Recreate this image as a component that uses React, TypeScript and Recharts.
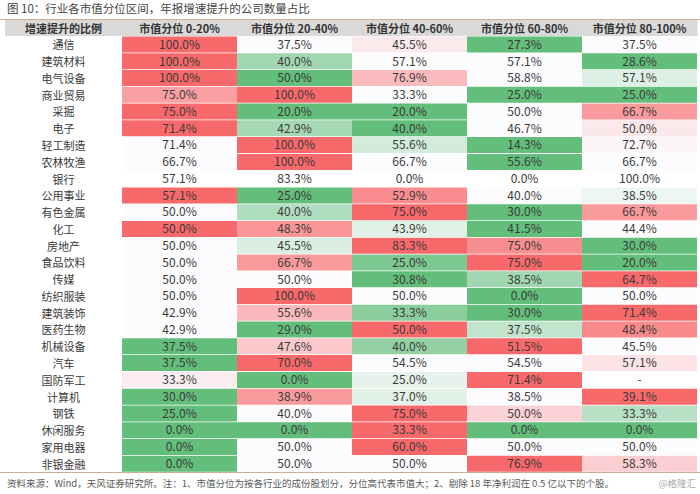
import React from "react";
import { BarChart, Bar, XAxis, YAxis, Cell, LabelList } from "recharts";

// ---------------------------------------------------------------------------
// Data (read off the reference table)
// ---------------------------------------------------------------------------
const industries = [
  "通信", "建筑材料", "电气设备", "商业贸易", "采掘", "电子", "轻工制造", "农林牧渔",
  "银行", "公用事业", "有色金属", "化工", "房地产", "食品饮料", "传媒", "纺织服装",
  "建筑装饰", "医药生物", "机械设备", "汽车", "国防军工", "计算机", "钢铁", "休闲服务",
  "家用电器", "非银金融",
];

const columns = ["市值分位 0-20%", "市值分位 20-40%", "市值分位 40-60%", "市值分位 60-80%", "市值分位 80-100%"];

const q0to20 = [100.0, 100.0, 100.0, 75.0, 75.0, 71.4, 71.4, 66.7, 57.1, 57.1, 50.0, 50.0, 50.0, 50.0, 50.0, 50.0, 42.9, 42.9, 37.5, 37.5, 33.3, 30.0, 25.0, 0.0, 0.0, 0.0];
const q20to40 = [37.5, 40.0, 50.0, 100.0, 20.0, 42.9, 100.0, 100.0, 83.3, 25.0, 40.0, 48.3, 45.5, 66.7, 50.0, 100.0, 55.6, 29.0, 47.6, 70.0, 0.0, 38.9, 40.0, 0.0, 50.0, 50.0];
const q40to60 = [45.5, 57.1, 76.9, 33.3, 20.0, 40.0, 55.6, 66.7, 0.0, 52.9, 75.0, 43.9, 83.3, 25.0, 30.8, 50.0, 33.3, 50.0, 40.0, 54.5, 25.0, 37.0, 75.0, 33.3, 60.0, 50.0];
const q60to80 = [27.3, 57.1, 58.8, 25.0, 50.0, 46.7, 14.3, 55.6, 0.0, 40.0, 30.0, 41.5, 75.0, 75.0, 38.5, 0.0, 30.0, 37.5, 51.5, 54.5, 71.4, 38.5, 50.0, 0.0, 50.0, 76.9];
const q80to100: (number | null)[] = [37.5, 28.6, 57.1, 25.0, 66.7, 50.0, 72.7, 66.7, 100.0, 38.5, 66.7, 44.4, 30.0, 20.0, 64.7, 50.0, 71.4, 48.4, 45.5, 57.1, null, 39.1, 33.3, 0.0, 50.0, 58.3];

// rows the source left without conditional formatting
const plainRows = ["银行"];

const series: (number | null)[][] = [q0to20, q20to40, q40to60, q60to80, q80to100];

// ---------------------------------------------------------------------------
// Layout / style
// ---------------------------------------------------------------------------
const W = 700;
const H = 494;
const MARGIN = { top: 20, right: 3, bottom: 22, left: 5 };
const LABEL_W = 117;
const HEADER_H = 16;
const FONT = '"Noto Sans CJK SC", "Noto Sans", sans-serif';
const TEXT = "#3a3a3a";
const HEADER_BG = "#D9D9D9";
const RULE = "#CFAE8F";

const LOW = [99, 190, 123];
const MID = [252, 252, 255];
const HIGH = [248, 105, 107];

function blend(a: number[], b: number[], t: number) {
  const c = a.map((v, i) => Math.round(v + (b[i] - v) * t));
  return `rgb(${c[0]},${c[1]},${c[2]})`;
}

// Excel-style 3 colour scale per row: min green, median white, max red
function cellColor(vals: (number | null)[], v: number | null, plain: boolean) {
  if (v == null || plain) return "#FFFFFF";
  const nums = vals.filter((n): n is number => n != null).sort((a, b) => a - b);
  const min = nums[0];
  const max = nums[nums.length - 1];
  const pos = (nums.length - 1) / 2;
  const lo = Math.floor(pos);
  const mid = nums[lo] + (nums[Math.ceil(pos)] - nums[lo]) * (pos - lo);
  if (v <= min) return blend(LOW, LOW, 0);
  if (v >= max) return blend(HIGH, HIGH, 0);
  if (v < mid) return blend(MID, LOW, (mid - v) / (mid - min));
  return blend(MID, HIGH, max === mid ? 0 : (v - mid) / (max - mid));
}

const rows = industries.map((name, r) => {
  const row: Record<string, any> = { name };
  const vals = series.map((s) => s[r]);
  vals.forEach((v, i) => {
    row[`w${i}`] = 1;
    row[`t${i}`] = v == null ? "-" : `${v.toFixed(1)}%`;
    row[`c${i}`] = cellColor(vals, v, plainRows.includes(name));
  });
  return row;
});

const COL_W = (W - MARGIN.left - MARGIN.right - LABEL_W) / columns.length;

function HeaderTick(props: any) {
  const { x, payload, index } = props;
  const top = MARGIN.top;
  return (
    <g>
      {index === 0 && (
        <g>
          <rect x={MARGIN.left} y={top} width={LABEL_W + 0.5} height={HEADER_H} fill={HEADER_BG} />
          <text
            x={MARGIN.left + LABEL_W / 2}
            y={top + HEADER_H / 2}
            textAnchor="middle"
            dominantBaseline="central"
            fontSize={11}
            fontWeight={700}
            fontFamily={FONT}
            fill="#333"
          >
            增速提升的比例
          </text>
        </g>
      )}
      <rect x={x - COL_W / 2} y={top} width={COL_W + 0.5} height={HEADER_H} fill={HEADER_BG} />
      <text
        x={x}
        y={top + HEADER_H / 2}
        textAnchor="middle"
        dominantBaseline="central"
        fontSize={11}
        fontWeight={700}
        fontFamily={FONT}
        fill="#333"
      >
        {columns[Math.round(payload.value - 0.5)]}
      </text>
    </g>
  );
}

function RowTick(props: any) {
  const { y, payload } = props;
  return (
    <text
      x={MARGIN.left + LABEL_W / 2}
      y={y}
      textAnchor="middle"
      dominantBaseline="central"
      fontSize={11}
      fontFamily={FONT}
      fill={TEXT}
    >
      {payload.value}
    </text>
  );
}

export default function App() {
  return (
    <div style={{ position: "absolute", left: 0, top: 0, width: W, height: H, background: "#fff", fontFamily: FONT }}>
      <div
        style={{
          position: "absolute",
          left: 7,
          top: 0,
          height: 18,
          lineHeight: "17px",
          fontSize: 11.5,
          color: "#444",
          whiteSpace: "nowrap",
        }}
      >
        图 10：行业各市值分位区间，年报增速提升的公司数量占比
      </div>
      <div style={{ position: "absolute", left: 0, top: 18.5, width: W, borderTop: `1px solid ${RULE}` }} />

      <BarChart
        width={W}
        height={H}
        data={rows}
        layout="vertical"
        margin={MARGIN}
        barCategoryGap={0.5}
      >
        <XAxis
          type="number"
          orientation="top"
          domain={[0, 5]}
          ticks={[0.5, 1.5, 2.5, 3.5, 4.5]}
          interval={0}
          height={HEADER_H}
          axisLine={false}
          tickLine={false}
          tick={HeaderTick}
        />
        <YAxis
          type="category"
          dataKey="name"
          width={LABEL_W}
          interval={0}
          axisLine={false}
          tickLine={false}
          tick={RowTick}
        />
        {columns.map((_, i) => (
          <Bar key={i} dataKey={`w${i}`} stackId="s" isAnimationActive={false}>
            {rows.map((r, j) => (
              <Cell key={j} fill={r[`c${i}`]} />
            ))}
            <LabelList
              dataKey={`t${i}`}
              position="center"
              fontSize={12}
              fontFamily={FONT}
              fill={TEXT}
            />
          </Bar>
        ))}
      </BarChart>

      <div style={{ position: "absolute", left: 0, top: 472, width: W, borderTop: `1px solid ${RULE}` }} />
      <div
        style={{
          position: "absolute",
          left: 7,
          top: 475,
          fontSize: 9.5,
          lineHeight: "16px",
          color: "#595959",
          whiteSpace: "nowrap",
        }}
      >
        资料来源：Wind，天风证券研究所。注：1、市值分位为按各行业的成份股划分，分位高代表市值大；2、剔除 18 年净利润在 0.5 亿以下的个股。
      </div>
      <div
        style={{
          position: "absolute",
          right: 4,
          top: 475,
          fontSize: 9.5,
          lineHeight: "16px",
          color: "#aaa",
          whiteSpace: "nowrap",
        }}
      >
        @格隆汇
      </div>
    </div>
  );
}
